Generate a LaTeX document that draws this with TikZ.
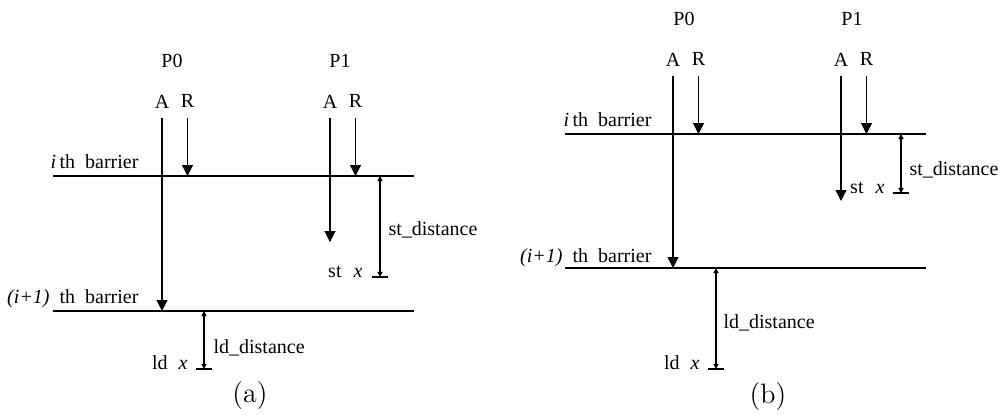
\documentclass[tikz,border=0pt]{standalone}
\usepackage{fontspec}
\newfontfamily\timesf{Liberation Serif}
\usetikzlibrary{arrows.meta,positioning}

\begin{document}
\begin{tikzpicture}[
  x=0.5pt, y=-0.5pt, line width=0.55pt,
  txt/.style={font=\timesf\fontsize{10}{12}\selectfont,
              inner sep=0pt, anchor=base},
  subcap/.style={font=\fontsize{14}{16}\selectfont, inner sep=0pt, anchor=base},
  acc/.style={-{Triangle[length=5.5pt,width=5.5pt]}, shorten <=4.5pt},
  dim/.style={{Triangle[length=2.6pt,width=2.6pt]}-{Triangle[length=2.6pt,width=2.6pt]}},
  node distance=12.75pt
]
\useasboundingbox (0,0) rectangle (1002,414);

% (a)
\node[txt] (aP0) at (172,67) {P0};
\node[txt] (aP1) at (340,67) {P1};
\node[txt] (aA0) at (162,108) {A};
\node[txt, right of=aA0] (aR0) {R};
\node[txt] (aA1) at (330,108) {A};
\node[txt, right of=aA1] (aR1) {R};
\coordinate (aB1L) at (53,176);
\coordinate (aB1R) at (414,176);
\coordinate (aB2L) at (53,311);
\coordinate (aB2R) at (414,311);
\coordinate (aA1e) at (330,242);
\coordinate (aSt) at (380,277);
\coordinate (aLd) at (204,369);
\draw (aB1L) -- (aB1R);
\draw (aB2L) -- (aB2R);
\node[txt, anchor=base east] (aB1) at (139,168) {\textit{i}\,th\enspace barrier};
\node[txt, anchor=base east] (aB2) at (139,303) {\textit{(i+1)}\enspace th\enspace barrier};
\draw[acc] (aA0) -- (aA0 |- aB2L);
\draw[acc] (aR0) -- (aR0 |- aB1L);
\draw[acc] (aA1) -- (aA1e);
\draw[acc] (aR1) -- (aR1 |- aB1L);
\draw[dim] (aSt |- aB1L) -- (aSt);
\draw ([xshift=-4pt]aSt) -- ([xshift=4pt]aSt);
\node[txt, anchor=base west] (aStD) at (388,235) {st\_distance};
\node[txt, anchor=base east] (aStX) at (363,277) {st\hspace{6pt}\textit{x}};
\draw[dim] (aLd |- aB2L) -- (aLd);
\draw ([xshift=-4pt]aLd) -- ([xshift=4pt]aLd);
\node[txt, anchor=base west] (aLdD) at (213,353) {ld\_distance};
\node[txt, anchor=base east] (aLdX) at (188,369) {ld\hspace{5.5pt}\textit{x}};
\node[subcap] (aCap) at (250,402) {(a)};

% (b)
\node[txt] (bP0) at (684,25) {P0};
\node[txt] (bP1) at (852,25) {P1};
\node[txt] (bA0) at (673,66) {A};
\node[txt, right of=bA0] (bR0) {R};
\node[txt] (bA1) at (841,66) {A};
\node[txt, right of=bA1] (bR1) {R};
\coordinate (bB1L) at (565,134);
\coordinate (bB1R) at (926,134);
\coordinate (bB2L) at (565,268);
\coordinate (bB2R) at (926,268);
\coordinate (bA1e) at (841,201);
\coordinate (bSt) at (901,193);
\coordinate (bLd) at (716,369);
\draw (bB1L) -- (bB1R);
\draw (bB2L) -- (bB2R);
\node[txt, anchor=base east] (bB1) at (652,126) {\textit{i}\,th\enspace barrier};
\node[txt, anchor=base east] (bB2) at (652,262) {\textit{(i+1)}\enspace th\enspace barrier};
\draw[acc] (bA0) -- (bA0 |- bB2L);
\draw[acc] (bR0) -- (bR0 |- bB1L);
\draw[acc] (bA1) -- (bA1e);
\draw[acc] (bR1) -- (bR1 |- bB1L);
\draw[dim] (bSt |- bB1L) -- (bSt);
\draw ([xshift=-4pt]bSt) -- ([xshift=4pt]bSt);
\node[txt, anchor=base west] (bStD) at (909,175) {st\_distance};
\node[txt, anchor=base east] (bStX) at (885,193) {st\hspace{6pt}\textit{x}};
\draw[dim] (bLd |- bB2L) -- (bLd);
\draw ([xshift=-4pt]bLd) -- ([xshift=4pt]bLd);
\node[txt, anchor=base west] (bLdD) at (723,328) {ld\_distance};
\node[txt, anchor=base east] (bLdX) at (700,369) {ld\hspace{5.5pt}\textit{x}};
\node[subcap] (bCap) at (768,403) {(b)};
\end{tikzpicture}
\end{document}
